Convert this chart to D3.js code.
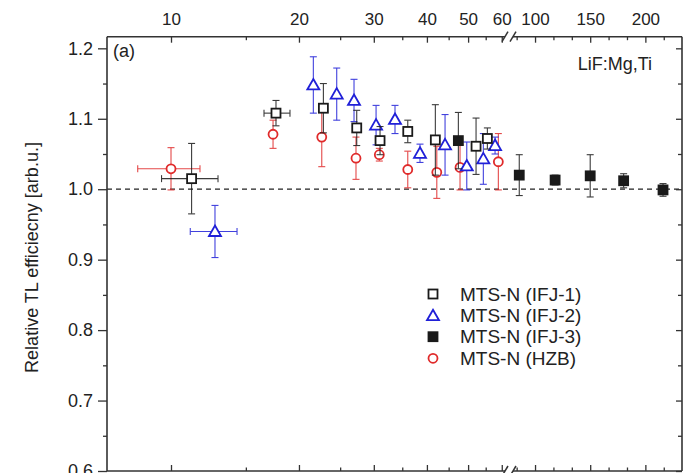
<!DOCTYPE html>
<html><head><meta charset="utf-8">
<script src="https://cdn.jsdelivr.net/npm/d3@7"></script>
<style>
body{margin:0;background:#fff;}
text{font-family:"Liberation Sans",Arial,sans-serif;fill:#222;}
</style></head><body>
<svg id="c" width="692" height="473"></svg>
<script>
// ---------- data ----------
const seriesNames = ["MTS-N (IFJ-1)","MTS-N (IFJ-2)","MTS-N (IFJ-3)","MTS-N (HZB)"];
// [x, y, yErr, xLow, xHigh]
const ifj1 = [[11.18,1.015,0.050,9.5,12.9],[17.66,1.108,0.018,16.55,19.05],[22.83,1.115,0.035],[27.35,1.087,0.025],[31.03,1.069,0.020],[36.06,1.082,0.016],[41.87,1.070,0.050],[52.2,1.061,0.040],[55.5,1.072,0.015]];
const ifj2 = [[12.69,0.940,0.037,11.1,14.3],[21.62,1.148,0.040],[24.54,1.135,0.037],[26.95,1.126,0.030],[30.37,1.091,0.028],[33.65,1.099,0.020],[38.53,1.051,0.013],[44.13,1.063,0.043],[49.64,1.033,0.034],[54.3,1.043,0.036],[57.86,1.062,0.012]];
const ifj3 = [[47.43,1.069,0.040],[85.7,1.020,0.029],[118.2,1.013,0.007],[150,1.019,0.030],[180.3,1.012,0.010],[216,0.999,0.009]];
const hzb = [[10.0,1.029,0.030,8.35,11.7],[17.38,1.078,0.020],[22.63,1.074,0.042],[27.24,1.044,0.030],[30.91,1.049,0.009],[36.06,1.028,0.026],[42.2,1.024,0.037],[47.86,1.031,0.032],[58.9,1.039,0.040]];
const xTicksLow = [10,20,30,40,50,60];
const xMinorLow = [15,25,35,45,55];
const xTicksHigh = [100,150,200];
const yTicks = [0.6,0.7,0.8,0.9,1.0,1.1,1.2];
const yMinor = [0.65,0.75,0.85,0.95,1.05,1.15];

// ---------- layout ----------
const L=107,R=682,T=36.7,B=471,BRK=509;
const xLow = d3.scaleLog().domain([7.07,62.4]).range([L,BRK]);
const xHigh = d3.scaleLinear().domain([76.4,233.2]).range([BRK,R]);
const xs = v => v < 70 ? xLow(v) : xHigh(v);
const y = d3.scaleLinear().domain([0.6,1.2165]).range([B,T]);
const xMinorHigh = d3.range(0,12).map(i=>83.33+i*16.667).filter(v=>v<233);

const svg = d3.select("#c");
const frameColor="#333";

// dashed reference line
svg.append("line").attr("x1",L).attr("x2",R).attr("y1",y(1.0)).attr("y2",y(1.0))
  .attr("stroke","#222").attr("stroke-width",1.2).attr("stroke-dasharray","5,4");

// axes
function styleAxis(g){ g.selectAll("path").remove(); g.selectAll("line").attr("stroke",frameColor).attr("stroke-width",1.3); }
// top
svg.append("g").attr("transform",`translate(0,${T})`).call(d3.axisTop(xLow).tickValues(xTicksLow).tickSize(-6).tickPadding(12).tickFormat(d3.format("d"))).call(styleAxis).selectAll("text").attr("font-size",17);
svg.append("g").attr("transform",`translate(0,${T})`).call(d3.axisTop(xLow).tickValues(xMinorLow).tickSize(-3.5).tickFormat("")).call(styleAxis);
svg.append("g").attr("transform",`translate(0,${T})`).call(d3.axisTop(xHigh).tickValues(xTicksHigh).tickSize(-6).tickPadding(12).tickFormat(d3.format("d"))).call(styleAxis).selectAll("text").attr("font-size",17);
svg.append("g").attr("transform",`translate(0,${T})`).call(d3.axisTop(xHigh).tickValues(xMinorHigh.filter(v=>!xTicksHigh.includes(Math.round(v)))).tickSize(-3.5).tickFormat("")).call(styleAxis);
// bottom
svg.append("g").attr("transform",`translate(0,${B})`).call(d3.axisBottom(xLow).tickValues(xTicksLow).tickSize(-6).tickFormat("")).call(styleAxis);
svg.append("g").attr("transform",`translate(0,${B})`).call(d3.axisBottom(xLow).tickValues(xMinorLow).tickSize(-3.5).tickFormat("")).call(styleAxis);
svg.append("g").attr("transform",`translate(0,${B})`).call(d3.axisBottom(xHigh).tickValues(xTicksHigh).tickSize(-6).tickFormat("")).call(styleAxis);
svg.append("g").attr("transform",`translate(0,${B})`).call(d3.axisBottom(xHigh).tickValues(xMinorHigh.filter(v=>!xTicksHigh.includes(Math.round(v)))).tickSize(-3.5).tickFormat("")).call(styleAxis);
// left
svg.append("g").attr("transform",`translate(${L},0)`).call(d3.axisLeft(y).tickValues(yTicks).tickSize(9).tickPadding(5).tickFormat(d3.format(".1f"))).call(styleAxis).selectAll("text").attr("font-size",18);
svg.append("g").attr("transform",`translate(${L},0)`).call(d3.axisLeft(y).tickValues(yMinor).tickSize(4).tickFormat("")).call(styleAxis);
// right
svg.append("g").attr("transform",`translate(${R},0)`).call(d3.axisRight(y).tickValues(yTicks).tickSize(-6).tickFormat("")).call(styleAxis);
svg.append("g").attr("transform",`translate(${R},0)`).call(d3.axisRight(y).tickValues(yMinor).tickSize(-4).tickFormat("")).call(styleAxis);

// frame with breaks
const fr = svg.append("g").attr("stroke",frameColor).attr("stroke-width",1.6).attr("fill","none");
fr.append("line").attr("x1",L).attr("x2",R).attr("y1",T).attr("y2",T);
fr.append("line").attr("x1",L).attr("x2",R).attr("y1",B).attr("y2",B);
fr.append("line").attr("x1",L).attr("x2",L).attr("y1",T).attr("y2",B);
fr.append("line").attr("x1",R).attr("x2",R).attr("y1",T).attr("y2",B);
[T,B].forEach(yy=>{
  svg.append("rect").attr("x",BRK-4).attr("y",yy-2).attr("width",8).attr("height",4).attr("fill","#fff");
  [-4,4].forEach(dx=>svg.append("line").attr("x1",BRK+dx-3).attr("x2",BRK+dx+3).attr("y1",yy+5).attr("y2",yy-5)
    .attr("stroke",frameColor).attr("stroke-width",1.5));
});

// data
const colBlack="#1a1a1a", colBlue="#2020d8", colRed="#e02a2a";
function drawSeries(data,color,shape,filled){
  const g=svg.append("g");
  data.forEach(d=>{
    const cx=xs(d[0]), cy=y(d[1]), y1=y(d[1]+d[2]), y2=y(d[1]-d[2]);
    const eb=g.append("g").attr("stroke",color).attr("stroke-width",1.1).attr("opacity",0.85);
    eb.append("line").attr("x1",cx).attr("x2",cx).attr("y1",y1).attr("y2",y2);
    eb.append("line").attr("x1",cx-3.5).attr("x2",cx+3.5).attr("y1",y1).attr("y2",y1);
    eb.append("line").attr("x1",cx-3.5).attr("x2",cx+3.5).attr("y1",y2).attr("y2",y2);
    if(d.length>3){
      const xa=xs(d[3]), xb=xs(d[4]);
      eb.append("line").attr("x1",xa).attr("x2",xb).attr("y1",cy).attr("y2",cy);
      eb.append("line").attr("x1",xa).attr("x2",xa).attr("y1",cy-3.5).attr("y2",cy+3.5);
      eb.append("line").attr("x1",xb).attr("x2",xb).attr("y1",cy-3.5).attr("y2",cy+3.5);
    }
  });
  data.forEach(d=>marker(g,xs(d[0]),y(d[1]),color,shape,filled));
}
function marker(g,cx,cy,color,shape,filled){
  if(shape==="sq") g.append("rect").attr("x",cx-4.5).attr("y",cy-4.5).attr("width",9).attr("height",9)
     .attr("fill",filled?color:"#fff").attr("stroke",color).attr("stroke-width",1.8);
  else if(shape==="tri") g.append("path").attr("d",`M${cx},${cy-6}L${cx+6},${cy+4.5}L${cx-6},${cy+4.5}Z`)
     .attr("fill","#fff").attr("stroke",color).attr("stroke-width",1.8);
  else g.append("circle").attr("cx",cx).attr("cy",cy).attr("r",4.5).attr("fill","#fff").attr("stroke",color).attr("stroke-width",1.8);
}
drawSeries(hzb,colRed,"circ",false);
drawSeries(ifj2,colBlue,"tri",false);
drawSeries(ifj1,colBlack,"sq",false);
drawSeries(ifj3,colBlack,"sq",true);

// labels
svg.append("text").attr("x",113).attr("y",57).attr("font-size",18).text("(a)");
svg.append("text").attr("x",652).attr("y",70).attr("text-anchor","end").attr("font-size",18).text("LiF:Mg,Ti");
svg.append("text").attr("transform",`translate(38,${(137+378)/2}) rotate(-90)`).attr("text-anchor","middle").attr("font-size",18).text("Relative TL efficiecny [arb.u.]");

// legend
const legCols=[colBlack,colBlue,colBlack,colRed], legShapes=["sq","tri","sq","circ"], legFill=[false,false,true,false];
const legY=[294,315.7,336.7,358.3];
const lg=svg.append("g");
seriesNames.forEach((n,i)=>{
  marker(lg,433,legY[i],legCols[i],legShapes[i],legFill[i]);
  lg.append("text").attr("x",460).attr("y",legY[i]).attr("dy","0.35em").attr("font-size",19).text(n);
});
</script></body></html>
